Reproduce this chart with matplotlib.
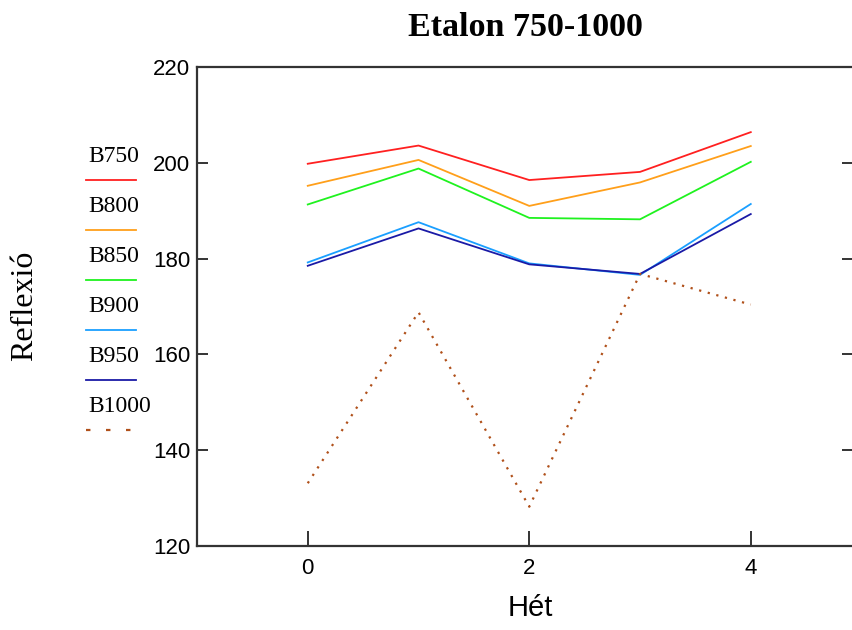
import matplotlib
matplotlib.use("Agg")
import matplotlib.pyplot as plt
from matplotlib.lines import Line2D

# weeks and reflection values per band
weeks = [0, 1, 2, 3, 4]
B750 = [199.8, 203.6, 196.4, 198.1, 206.4]
B800 = [195.2, 200.6, 191.0, 195.9, 203.5]
B850 = [191.3, 198.8, 188.5, 188.2, 200.2]
B900 = [179.2, 187.6, 179.0, 176.6, 191.4]
B950 = [178.5, 186.3, 178.8, 176.8, 189.3]
B1000 = [133.1, 168.8, 128.2, 176.8, 170.4]

labels = ["B750", "B800", "B850", "B900", "B950", "B1000"]
series = [B750, B800, B850, B900, B950, B1000]
colors = ["#ff2020", "#ff9f1a", "#1ff21f", "#1a9fff", "#1a1aa6", "#b0501a"]
styles = ["-", "-", "-", "-", "-", (0, (1, 3))]
key_styles = ["-", "-", "-", "-", "-", (0, (2, 7))]

W, H = 853, 630
fig = plt.figure(figsize=(W / 100, H / 100), dpi=100)

# axes box in pixel terms: left 197, right at figure edge, top 67, bottom 546
ax = fig.add_axes([197 / W, 1 - 546 / H, (W - 197) / W, (546 - 67) / H])

for ys, c, ls in zip(series, colors, styles):
    ax.plot(weeks, ys, color=c, linestyle=ls, lw=1.3 if ls == "-" else 1.6)

ax.set_xlim(-1, 4.923)
ax.set_ylim(120, 220)
ax.set_xticks([0, 2, 4])
ax.set_yticks([120, 140, 160, 180, 200, 220])

for side in ["left", "bottom", "top"]:
    ax.spines[side].set_linewidth(1.6)
    ax.spines[side].set_color("#333333")
ax.spines["right"].set_visible(False)

tickfont = ["Liberation Sans Narrow", "Liberation Sans"]
ax.tick_params(axis="x", direction="in", length=11, width=1.4, color="#333333",
               pad=9, labelsize=16)
ax.tick_params(axis="y", direction="in", length=8, width=1.4, color="#333333",
               pad=5, labelsize=16, right=True)
for lbl in ax.get_xticklabels() + ax.get_yticklabels():
    lbl.set_family(tickfont)

fig.text(530 / W, 1 - 608 / H, "Hét", ha="center", va="center",
         family=tickfont, fontsize=21)
fig.text(25 / W, 1 - 306 / H, "Reflexió", ha="center", va="center",
         rotation=90, family="Liberation Serif", fontsize=23)
fig.text(525 / W, 1 - 28 / H, "Etalon 750-1000", ha="center", va="center",
         family="Liberation Serif", fontweight="bold", fontsize=24.5)

# legend drawn by hand at the left margin
for i, (lab, c, ls) in enumerate(zip(labels, colors, key_styles)):
    ty = 157 + 50 * i
    ly = 180 + 50 * i
    fig.text(88 / W, 1 - ty / H, lab, ha="left", va="center",
             family="Liberation Serif", fontsize=17)
    fig.add_artist(Line2D([86 / W, 136 / W], [1 - ly / H, 1 - ly / H],
                          color=c, linestyle=ls, lw=1.3 if ls == "-" else 1.6,
                          transform=fig.transFigure))

fig.savefig("out.png", dpi=100)
